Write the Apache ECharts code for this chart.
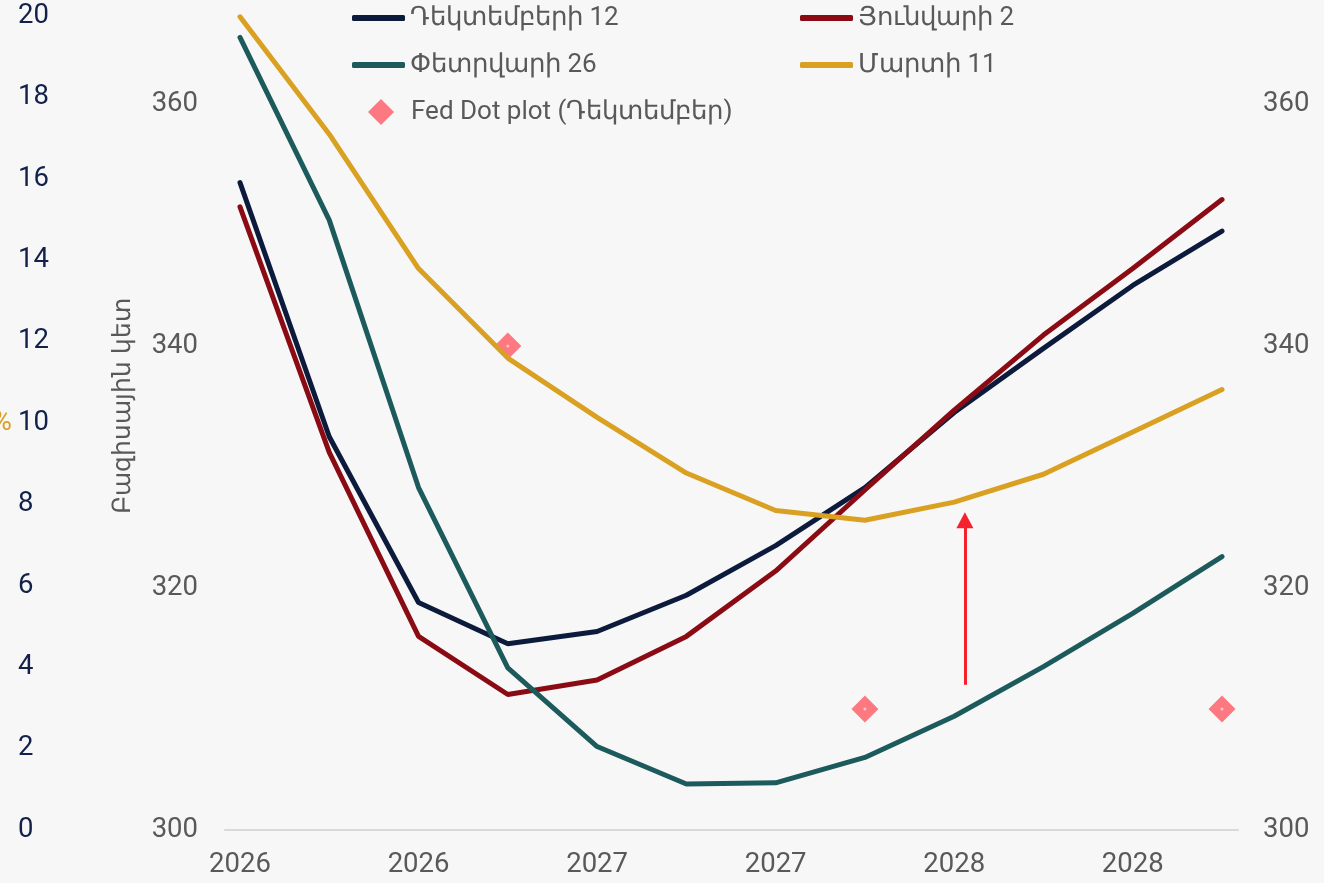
<!DOCTYPE html>
<html>
<head>
<meta charset="utf-8">
<script src="https://cdn.jsdelivr.net/npm/echarts@6/dist/echarts.min.js"></script>
<style>
  html, body { margin: 0; padding: 0; background: #f7f7f7; }
  #chart { width: 1324px; height: 883px; }
</style>
</head>
<body>
<div id="chart"></div>
<script>
// x labels (every other one shown)
const categories = ['2026', '2026', '2026', '2026', '2027', '2027', '2027', '2027', '2028', '2028', '2028', '2028']
// basis points
const dec12 = [353.5, 332.5, 318.8, 315.4, 316.4, 319.4, 323.5, 328.3, 334.5, 339.8, 345.0, 349.5]
const jan2 = [351.5, 331.2, 316.0, 311.2, 312.4, 316.0, 321.4, 328.1, 334.7, 340.9, 346.4, 352.1]
const feb26 = [365.5, 350.4, 328.3, 313.4, 306.9, 303.8, 303.9, 306.0, 309.4, 313.5, 317.9, 322.6]
const mar11 = [367.2, 357.5, 346.4, 339.0, 334.1, 329.5, 326.4, 325.6, 327.1, 329.4, 332.9, 336.4]
const fedDots = ['-', '-', '-', 340, '-', '-', '-', 310, '-', '-', '-', 310]
// red arrow: from / to (x as fractional category index)
const arrowFrom = [8.12, 312.0]
const arrowTo = [8.12, 325.6]

const grey = '#595959'
const font = 'Roboto'
const fs = 27.5 // axis labels
const lfs = 26 // legend

const chart = echarts.init(document.getElementById('chart'))

const lineSeries = (name, data, color) => ({
  name: name,
  type: 'line',
  data: data,
  xAxisIndex: 0,
  yAxisIndex: 1,
  showSymbol: false,
  symbol: 'none',
  lineStyle: { width: 5, color: color, cap: 'round' },
  itemStyle: { color: color },
  emphasis: { disabled: true },
  clip: false
})

const legendText = { color: grey, fontSize: lfs, fontFamily: font }

chart.setOption({
  backgroundColor: '#f7f7f7',
  animation: false,
  textStyle: { fontFamily: font },
  grid: [
    { left: 240, right: 102, top: 16, bottom: 53, outerBoundsMode: 'none' },
    { left: 225, right: 86, top: 16, bottom: 53, outerBoundsMode: 'none' }
  ],
  legend: [
    {
      orient: 'vertical',
      left: 347,
      top: 0,
      icon: 'roundRect',
      itemWidth: 53,
      itemHeight: 6,
      itemGap: 21,
      textStyle: legendText,
      data: ['Դեկտեմբերի 12', 'Փետրվարի 26']
    },
    {
      orient: 'vertical',
      left: 795,
      top: 0,
      icon: 'roundRect',
      itemWidth: 53,
      itemHeight: 6,
      itemGap: 21,
      textStyle: legendText,
      data: ['Յունվարի 2', 'Մարտի 11']
    },
    {
      orient: 'vertical',
      left: 363,
      top: 94,
      icon: 'diamond',
      itemWidth: 26,
      itemHeight: 26,
      textStyle: Object.assign({ padding: [0, 0, 0, 12] }, legendText),
      data: ['Fed Dot plot (Դեկտեմբեր)']
    }
  ],
  xAxis: [
    {
      type: 'category',
      gridIndex: 0,
      data: categories,
      boundaryGap: false,
      axisLine: { show: false },
      axisTick: { show: false },
      axisLabel: { interval: 1, color: grey, fontSize: fs, margin: 21, fontFamily: font }
    },
    {
      // helper axis for the arrow position
      type: 'value',
      gridIndex: 0,
      min: 0,
      max: categories.length - 1,
      show: false
    },
    {
      // axis line only, a bit wider than the plot
      type: 'value',
      gridIndex: 1,
      min: 0,
      max: 1,
      axisLine: { show: true, lineStyle: { color: '#d9d9d9', width: 2 } },
      axisTick: { show: false },
      axisLabel: { show: false },
      splitLine: { show: false }
    }
  ],
  yAxis: [
    {
      type: 'value',
      gridIndex: 0,
      position: 'left',
      offset: 214,
      min: 0,
      max: 20,
      interval: 2,
      name: '%',
      nameLocation: 'middle',
      nameRotate: 0,
      nameGap: 14,
      nameTextStyle: { color: '#d9a021', fontSize: fs, padding: [0, 0, 6, 0] },
      axisLine: { show: false },
      axisTick: { show: false },
      splitLine: { show: false },
      axisLabel: { color: '#13214a', fontSize: fs, align: 'left', margin: 8, fontFamily: font }
    },
    {
      type: 'value',
      gridIndex: 0,
      position: 'left',
      min: 300,
      max: 367.27,
      interval: 20,
      name: 'Բազիսային կետ',
      nameLocation: 'middle',
      nameGap: 104,
      nameTextStyle: { color: grey, fontSize: 25, padding: [0, 0, 0, 34] },
      axisLine: { show: false },
      axisTick: { show: false },
      splitLine: { show: false },
      axisLabel: { color: grey, fontSize: fs, margin: 42, showMaxLabel: false, fontFamily: font }
    },
    {
      type: 'value',
      gridIndex: 0,
      position: 'right',
      min: 300,
      max: 367.27,
      interval: 20,
      axisLine: { show: false },
      axisTick: { show: false },
      splitLine: { show: false },
      axisLabel: { color: grey, fontSize: fs, margin: 41, showMaxLabel: false, fontFamily: font }
    },
    {
      type: 'value',
      gridIndex: 1,
      show: false
    }
  ],
  series: [
    lineSeries('Դեկտեմբերի 12', dec12, '#0c1a3c'),
    lineSeries('Յունվարի 2', jan2, '#8a0b14'),
    lineSeries('Փետրվարի 26', feb26, '#1c5a5c'),
    lineSeries('Մարտի 11', mar11, '#d9a021'),
    {
      name: 'Fed Dot plot (Դեկտեմբեր)',
      type: 'scatter',
      xAxisIndex: 0,
      yAxisIndex: 1,
      data: fedDots,
      symbol: 'diamond',
      symbolSize: 27,
      itemStyle: { color: '#fd7981', opacity: 1 },
      emphasis: { disabled: true }
    },
    {
      // small pale centre of the dot markers
      type: 'scatter',
      xAxisIndex: 0,
      yAxisIndex: 1,
      data: fedDots,
      symbol: 'circle',
      symbolSize: 3,
      itemStyle: { color: '#ffc2c6', opacity: 1 },
      emphasis: { disabled: true },
      silent: true
    },
    {
      // the red arrow
      type: 'line',
      xAxisIndex: 1,
      yAxisIndex: 1,
      data: [],
      markLine: {
        silent: true,
        symbol: ['none', 'triangle'],
        symbolSize: [17, 16],
        label: { show: false },
        lineStyle: { color: '#f5222d', width: 3, type: 'solid' },
        data: [[{ coord: arrowFrom }, { coord: arrowTo }]]
      }
    }
  ]
})
</script>
</body>
</html>
